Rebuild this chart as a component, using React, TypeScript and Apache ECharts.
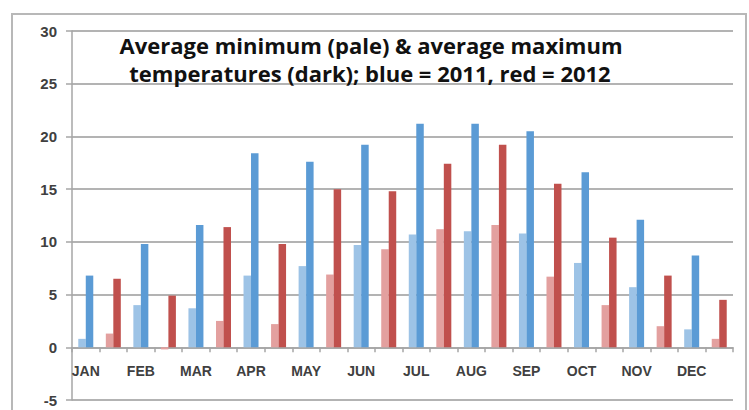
import React, { useEffect, useRef } from "react";
import * as echarts from "echarts";

const months = ["JAN", "FEB", "MAR", "APR", "MAY", "JUN", "JUL", "AUG", "SEP", "OCT", "NOV", "DEC"];
const min2011 = [0.8, 4.0, 3.7, 6.8, 7.7, 9.7, 10.7, 11.0, 10.8, 8.0, 5.7, 1.7];
const max2011 = [6.8, 9.8, 11.6, 18.4, 17.6, 19.2, 21.2, 21.2, 20.5, 16.6, 12.1, 8.7];
const min2012 = [1.3, -0.2, 2.5, 2.2, 6.9, 9.3, 11.2, 11.6, 6.7, 4.0, 2.0, 0.8];
const max2012 = [6.5, 4.9, 11.4, 9.8, 15.0, 14.8, 17.4, 19.2, 15.5, 10.4, 6.8, 4.5];
const yTicks = [-5, 0, 5, 10, 15, 20, 25, 30];
const titleLines = [
  "Average minimum (pale) & average maximum",
  "temperatures (dark); blue = 2011, red = 2012",
];

const BLUE_DARK = "#5b9bd5";
const BLUE_PALE = "#9dc3e6";
const RED_DARK = "#c0504d";
const RED_PALE = "#e3a09f";

const GRID_TOP = 31;
const GRID_BOTTOM_Y = 400;

export default function App() {
  const ref = useRef<HTMLDivElement>(null);
  useEffect(() => {
    if (!ref.current) return;
    const chart = echarts.init(ref.current, undefined, { renderer: "svg" });
    const categories: string[] = [];
    const minData: any[] = [];
    const maxData: any[] = [];
    months.forEach((m, i) => {
      categories.push(m + " 2011");
      minData.push({ value: min2011[i], itemStyle: { color: BLUE_PALE } });
      maxData.push({ value: max2011[i], itemStyle: { color: BLUE_DARK } });
      categories.push(m + " 2012");
      minData.push({ value: min2012[i], itemStyle: { color: RED_PALE } });
      maxData.push({ value: max2012[i], itemStyle: { color: RED_DARK } });
    });
    const yMin = yTicks[0];
    const yMax = yTicks[yTicks.length - 1];
    const zeroY = GRID_TOP + ((yMax - 0) / (yMax - yMin)) * (GRID_BOTTOM_Y - GRID_TOP);
    const labelOffset = -(GRID_BOTTOM_Y - zeroY);
    chart.setOption({
      animation: false,
      backgroundColor: "#ffffff",
      grid: {
        left: 72,
        right: 16,
        top: GRID_TOP,
        bottom: 410 - GRID_BOTTOM_Y,
        containLabel: false,
        outerBoundsMode: "none",
      },
      xAxis: [
        {
          type: "category",
          data: categories,
          axisLine: { onZero: true, lineStyle: { color: "#a6a6a6", width: 1.5 } },
          axisTick: { show: true, interval: 0, length: 5, lineStyle: { color: "#a6a6a6", width: 1.5 } },
          axisLabel: { show: false },
          splitLine: { show: false },
        },
        {
          type: "category",
          data: categories,
          position: "bottom",
          offset: labelOffset,
          axisLine: { show: false, onZero: false },
          axisTick: { show: false },
          axisLabel: {
            interval: 0,
            margin: 17,
            color: "#404040",
            fontFamily: "Liberation Sans",
            fontSize: 14,
            fontWeight: "bold",
            formatter: (v: string) => (v.endsWith("2011") ? v.slice(0, 3) : ""),
          },
          splitLine: { show: false },
        },
      ],
      yAxis: {
        type: "value",
        min: yMin,
        max: yMax,
        interval: 5,
        axisLine: { show: true, lineStyle: { color: "#a6a6a6", width: 1.5 } },
        axisTick: { show: true, length: 6, lineStyle: { color: "#a6a6a6", width: 1.5 } },
        axisLabel: {
          margin: 15,
          color: "#404040",
          fontFamily: "Liberation Sans",
          fontSize: 15,
          fontWeight: "bold",
        },
        splitLine: { show: true, lineStyle: { color: "#b3b3b3", width: 1.8 } },
      },
      series: [
        { type: "bar", name: "min", data: minData, barWidth: 7.5, barGap: "0%" },
        { type: "bar", name: "max", data: maxData, barWidth: 7.5, barGap: "0%" },
      ],
      graphic: [
        {
          type: "rect",
          shape: { x: 12, y: 14, width: 734, height: 500 },
          style: { fill: "none", stroke: "#b8b8b8", lineWidth: 2 },
          silent: true,
        },
        {
          type: "text",
          x: 371,
          y: 45,
          style: {
            text: titleLines[0],
            align: "center",
            verticalAlign: "middle",
            fontFamily: "Open Sans",
            fontWeight: "bold",
            fontSize: 22,
            fill: "#111111",
          },
          z: 10,
        },
        {
          type: "text",
          x: 370,
          y: 73,
          style: {
            text: titleLines[1],
            align: "center",
            verticalAlign: "middle",
            fontFamily: "Open Sans",
            fontWeight: "bold",
            fontSize: 22,
            fill: "#111111",
          },
          z: 10,
        },
      ],
    });
    return () => chart.dispose();
  }, []);
  return (
    <div
      ref={ref}
      style={{ position: "fixed", left: 0, top: 0, width: 749, height: 410 }}
    />
  );
}
